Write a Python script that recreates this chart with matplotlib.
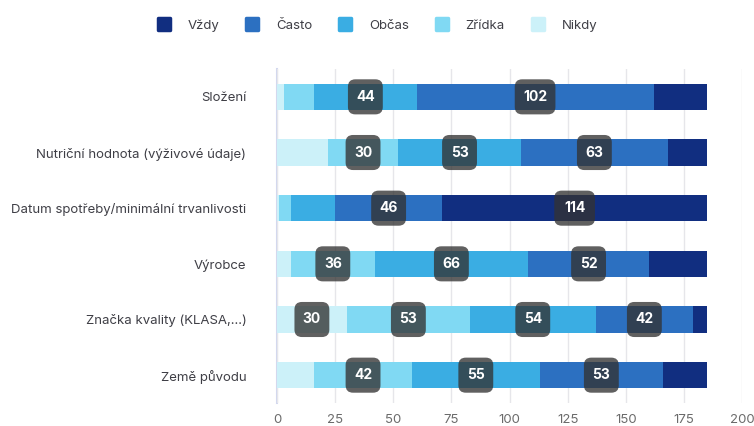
import numpy as np
import matplotlib
matplotlib.use("Agg")
import matplotlib.pyplot as plt
from matplotlib.patches import FancyBboxPatch
from matplotlib.lines import Line2D
from matplotlib.markers import MarkerStyle

plt.rcParams['font.family'] = ['Inter', 'DejaVu Sans']

# data
categories = ["Složení", "Nutriční hodnota (výživové údaje)", "Datum spotřeby/minimální trvanlivosti",
              "Výrobce", "Značka kvality (KLASA,...)", "Země původu"]
series_names = ["Nikdy", "Zřídka", "Občas", "Často", "Vždy"]
nikdy = [3, 22, 1, 6, 30, 16]
zridka = [13, 30, 5, 36, 53, 42]
obcas = [44, 53, 19, 66, 54, 55]
casto = [102, 63, 46, 52, 42, 53]
vzdy = [23, 17, 114, 25, 6, 19]
colors = ["#CCF1F9", "#80D9F3", "#3AADE3", "#2C70C1", "#112E80"]
legend_order = ["Vždy", "Často", "Občas", "Zřídka", "Nikdy"]
xticks = [0, 25, 50, 75, 100, 125, 150, 175, 200]

values = np.array([nikdy, zridka, obcas, casto, vzdy])
label_min = 30  # menší hodnoty nemají popisek

# styl
bar_h = 0.47
box_h = 0.63
box_w2 = 15.0   # šířka rámečku pro 2 číslice (v jednotkách osy x)
box_w3 = 17.5
text_color = "#3f3f46"
tick_color = "#6b6b6b"

fig = plt.figure(figsize=(7.54, 4.26), dpi=100)
ax = fig.add_axes([0.3674, 0.054, 0.6167, 0.784])

y = np.arange(len(categories))
left = np.zeros(len(categories))
aspect = (1 / 55.6) / (1 / 2.328)
for i, name in enumerate(series_names):
    ax.barh(y, values[i], left=left, height=bar_h, color=colors[i], edgecolor="none", zorder=2)
    for j in range(len(categories)):
        v = values[i][j]
        if v >= label_min:
            cx = left[j] + v / 2
            w = box_w3 if v >= 100 else box_w2
            box = FancyBboxPatch((cx - w / 2, y[j] - box_h / 2), w, box_h,
                                 boxstyle="round,pad=0,rounding_size=3.2",
                                 mutation_aspect=aspect,
                                 fc=(0.2, 0.2, 0.2, 0.78), ec="none", zorder=3)
            ax.add_patch(box)
            ax.text(cx, y[j], str(v), ha="center", va="center", color="white",
                    fontsize=10, fontweight="bold", zorder=4)
    left += values[i]

ax.set_xlim(0, 200)
ax.set_ylim(len(categories) - 0.5, -0.5)
ax.set_xticks(xticks)
ax.set_yticks(y)
ax.set_yticklabels(categories, fontsize=9.5, color=text_color)
ax.tick_params(axis="x", length=0, pad=8, labelsize=9.5, labelcolor=tick_color)
ax.tick_params(axis="y", length=0, pad=22)
ax.grid(axis="x", color="#e6e6ea", linewidth=1, zorder=0)
for s in ["top", "right", "bottom"]:
    ax.spines[s].set_visible(False)
ax.spines["left"].set_color("#d3d8ee")
ax.spines["left"].set_linewidth(1.5)
ax.spines["left"].set_zorder(1)

# legenda
handles = [Line2D([], [], linestyle="none", marker=MarkerStyle("s", joinstyle="round"), markersize=8,
                  markerfacecolor=colors[series_names.index(n)],
                  markeredgecolor=colors[series_names.index(n)],
                  markeredgewidth=2.5)
           for n in legend_order]
fig.legend(handles, legend_order, loc="center", bbox_to_anchor=(0.5, 0.94), ncol=5,
           frameon=False, fontsize=9.5, labelcolor=text_color, handletextpad=1.3,
           columnspacing=2.0, handlelength=1)

fig.savefig("out.png", dpi=100)
